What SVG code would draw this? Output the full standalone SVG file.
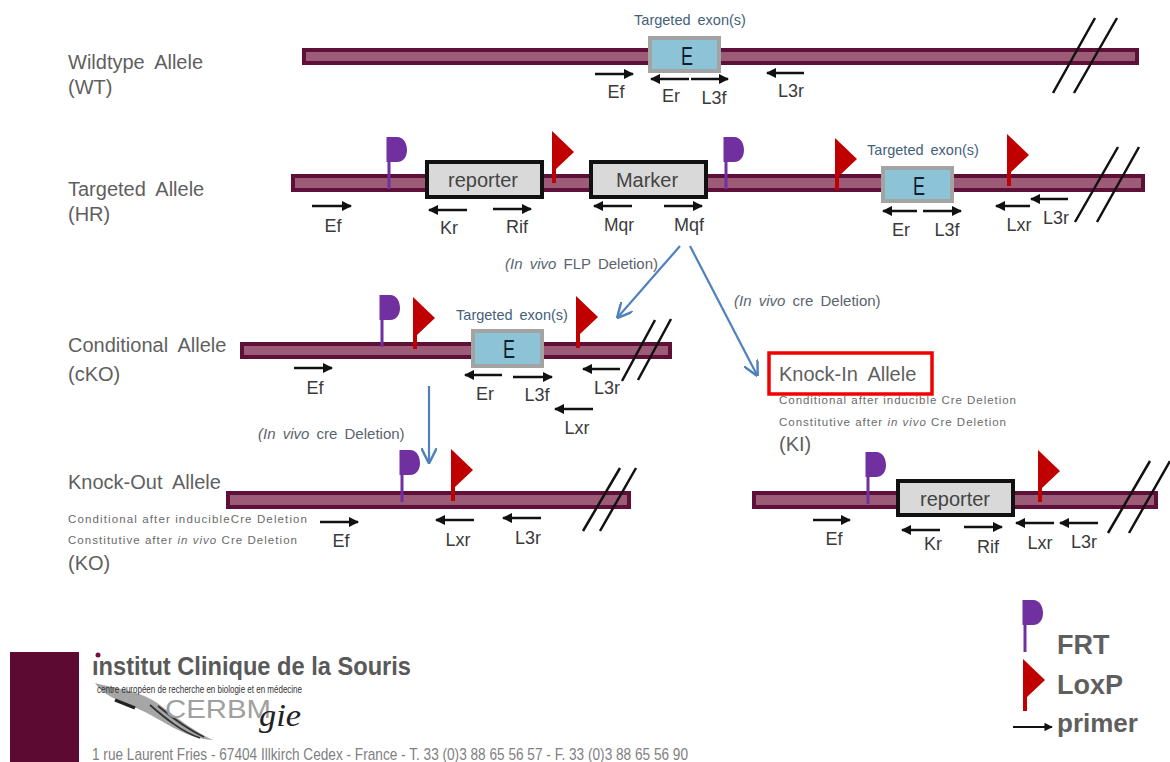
<svg xmlns="http://www.w3.org/2000/svg" width="1170" height="762" viewBox="0 0 1170 762">
<style>
text{font-family:"Liberation Sans",Arial,sans-serif}
.bar{fill:#9c5c78;stroke:#5e1038;stroke-width:4}
.t{font-size:20px;fill:#5f5f5f;word-spacing:5px}
.s{font-size:11.5px;fill:#6a6a6a}
.p{font-size:18px;fill:#3a3a3a;text-anchor:middle}
.tx{font-size:14.500px;fill:#44617b;text-anchor:middle;word-spacing:3px}
.d{font-size:15px;fill:#5a6470;word-spacing:3px}
.box{fill:#d9d9d9;stroke:#111;stroke-width:4}
.boxt{font-size:20px;fill:#444;text-anchor:middle}
.ex{fill:#8cc3d6;stroke:#a3a3a3;stroke-width:4}
.et{font-size:25px;fill:#102030;text-anchor:middle}
.cut{stroke:#111;stroke-width:2.500;fill:none}
.pr{stroke:#111;stroke-width:2.500;fill:none;marker-end:url(#ah)}
.blue{stroke:#4f81bd;stroke-width:2.200;fill:none;marker-end:url(#bh)}
.leg{font-size:27px;font-weight:bold;fill:#5f5f5f}
</style>
<defs>
<marker id="ah" viewBox="0 0 10 10" refX="9" refY="5" markerWidth="4.200" markerHeight="4.200" orient="auto"><path d="M0 0L10 5L0 10z" fill="#111"/></marker>
<marker id="bh" viewBox="0 0 10 10" refX="9" refY="5" markerWidth="7" markerHeight="7" orient="auto"><path d="M0 0L10 5L0 10" fill="none" stroke="#4f81bd" stroke-width="1.600"/></marker>
<g id="frt"><path d="M-2.500-52H8C15-52 18-45 18-39C18-33 15-27 8-27H1.500V0H-1.500V-27H-2.500z" fill="#7030a0"/></g>
<g id="lox"><path d="M-2-52L20-31L2-14V0H-2z" fill="#c00000"/></g>
</defs>

<g id="connectors">
<path class="blue" d="M680 246L618 317"/>
<path class="blue" d="M690 246L757 375"/>
<path class="blue" d="M429 386V462"/>
</g>

<g id="wt">
<text class="t" x="68" y="69">Wildtype Allele</text><text class="t" x="68" y="94">(WT)</text>
<rect class="bar" x="304" y="50" width="833" height="13"/>
<text class="tx" x="690" y="25">Targeted exon(s)</text>
<rect class="ex" x="650" y="38" width="69" height="33"/><text class="et" x="687" y="65" textLength="12" lengthAdjust="spacingAndGlyphs">E</text>
<path class="cut" d="M1053 93L1095 18M1074 93L1117 18"/>
<path class="pr" d="M595 74H633"/><path class="pr" d="M689 79H651"/><path class="pr" d="M691 79H728"/><path class="pr" d="M804 73H767"/>
<text class="p" x="616" y="98">Ef</text><text class="p" x="671" y="102">Er</text><text class="p" x="714" y="104">L3f</text><text class="p" x="791" y="97">L3r</text>
</g>

<g id="hr">
<text class="t" x="68" y="196">Targeted Allele</text><text class="t" x="68" y="221">(HR)</text>
<rect class="bar" x="293" y="176" width="850" height="14"/>
<use href="#frt" x="389" y="189"/><use href="#lox" x="554" y="183"/><use href="#frt" x="726" y="189"/><use href="#lox" x="837" y="190"/><use href="#lox" x="1009" y="186"/>
<rect class="box" x="427" y="162" width="115" height="35"/><text class="boxt" x="483" y="187">reporter</text>
<rect class="box" x="591" y="162" width="115" height="35"/><text class="boxt" x="647" y="187">Marker</text>
<text class="tx" x="923" y="155">Targeted exon(s)</text>
<rect class="ex" x="883" y="168" width="69" height="33"/><text class="et" x="919" y="195" textLength="12" lengthAdjust="spacingAndGlyphs">E</text>
<path class="cut" d="M1075 222L1118 147M1097 222L1139 147"/>
<path class="pr" d="M312 206H351"/><path class="pr" d="M467 210H429"/><path class="pr" d="M493 209H531"/><path class="pr" d="M632 206H594"/><path class="pr" d="M664 206H702"/><path class="pr" d="M923 211H961"/><path class="pr" d="M917 211H883"/><path class="pr" d="M1030 206H996"/><path class="pr" d="M1068 199H1031"/>
<text class="p" x="333" y="232">Ef</text><text class="p" x="449" y="234">Kr</text><text class="p" x="517" y="233">Rif</text><text class="p" x="619" y="231" textLength="30" lengthAdjust="spacingAndGlyphs">Mqr</text><text class="p" x="689" y="231" textLength="30" lengthAdjust="spacingAndGlyphs">Mqf</text><text class="p" x="901" y="236">Er</text><text class="p" x="947" y="236">L3f</text><text class="p" x="1019" y="231">Lxr</text><text class="p" x="1056" y="224">L3r</text>
</g>

<text class="d" id="flp" x="505" y="269"><tspan font-style="italic">(In vivo</tspan> FLP Deletion)</text>
<text class="d" id="cre1" x="734" y="306"><tspan font-style="italic">(In vivo</tspan> cre Deletion)</text>
<text class="d" id="cre2" x="258" y="439"><tspan font-style="italic">(In vivo</tspan> cre Deletion)</text>

<g id="cko">
<text class="t" x="68" y="352">Conditional Allele</text><text class="t" x="68" y="381">(cKO)</text>
<rect class="bar" x="242" y="344" width="428" height="13"/>
<use href="#frt" x="382" y="347"/><use href="#lox" x="415" y="349"/><use href="#lox" x="578" y="348"/>
<text class="tx" x="512" y="320">Targeted exon(s)</text>
<rect class="ex" x="473" y="331" width="69" height="35"/><text class="et" x="509" y="358" textLength="12" lengthAdjust="spacingAndGlyphs">E</text>
<path class="cut" d="M622 381L655 320M638 380L671 319"/>
<path class="pr" d="M502 375H465"/><path class="pr" d="M513 377H552"/><path class="pr" d="M620 369H583"/><path class="pr" d="M593 409H555"/><path class="pr" d="M294 368H332"/>
<text class="p" x="315" y="394">Ef</text><text class="p" x="485" y="400">Er</text><text class="p" x="537" y="401">L3f</text><text class="p" x="607" y="394">L3r</text><text class="p" x="577" y="434">Lxr</text>
</g>

<g id="ki">
<text class="t" x="779" y="381">Knock-In Allele</text>
<rect x="769" y="353" width="163" height="41" fill="none" stroke="#f00000" stroke-width="3.500"/>
<text class="s" x="779" y="404" textLength="237" lengthAdjust="spacing">Conditional after inducible Cre Deletion</text>
<text class="s" x="779" y="426" textLength="227" lengthAdjust="spacing">Constitutive after <tspan font-style="italic">in vivo</tspan> Cre Deletion</text>
<text class="t" x="779" y="451">(KI)</text>
<rect class="bar" x="754" y="493" width="402" height="14"/>
<use href="#frt" x="868" y="504"/><use href="#lox" x="1040" y="502"/>
<rect class="box" x="898" y="481" width="115" height="34"/><text class="boxt" x="955" y="506">reporter</text>
<path class="cut" d="M1108 533L1150 461M1129 533L1170 461"/>
<path class="pr" d="M813 520H850"/><path class="pr" d="M940 530H902"/><path class="pr" d="M964 527H1002"/><path class="pr" d="M1054 523H1016"/><path class="pr" d="M1098 523H1060"/>
<text class="p" x="834" y="545">Ef</text><text class="p" x="933" y="550">Kr</text><text class="p" x="988" y="553">Rif</text><text class="p" x="1040" y="549">Lxr</text><text class="p" x="1084" y="548">L3r</text>
</g>

<g id="ko">
<text class="t" x="68" y="489">Knock-Out Allele</text>
<text class="s" x="68" y="523" textLength="239" lengthAdjust="spacing">Conditional after inducibleCre Deletion</text>
<text class="s" x="68" y="544" textLength="229" lengthAdjust="spacing">Constitutive after <tspan font-style="italic">in vivo</tspan> Cre Deletion</text>
<text class="t" x="68" y="570">(KO)</text>
<rect class="bar" x="228" y="493" width="401" height="14"/>
<use href="#frt" x="402" y="502"/><use href="#lox" x="453" y="501"/>
<path class="cut" d="M583 531L620 468M600 531L636 468"/>
<path class="pr" d="M320 522H358"/><path class="pr" d="M474 520H436"/><path class="pr" d="M541 518H503"/>
<text class="p" x="341" y="547">Ef</text><text class="p" x="458" y="546">Lxr</text><text class="p" x="528" y="544">L3r</text>
</g>

<g id="legend">
<use href="#frt" x="1025" y="652"/><use href="#lox" x="1025" y="711"/>
<text class="leg" x="1057" y="654">FRT</text><text class="leg" x="1057" y="694">LoxP</text>
<path d="M1013 727H1052" stroke="#111" stroke-width="2" fill="none" marker-end="url(#ah)"/>
<text class="leg" x="1057" y="732" style="font-size:26px">primer</text>
</g>

<g id="logo">
<rect x="10" y="652" width="69" height="110" fill="#5c0a32"/>
<path d="M95 683C120 690 140 690 160 705C180 720 195 732 213 740C185 738 165 722 145 712C125 702 105 698 95 683z" fill="#a6a6a6"/>
<path d="M115 700L135 708" stroke="#222" stroke-width="3.500" fill="none"/>
<path d="M150 705C165 718 182 732 200 738M158 706C170 716 185 728 204 737" stroke="#333" stroke-width="1.800" fill="none"/>
<circle cx="98" cy="655" r="2.500" fill="#7a1040"/>
<text x="92" y="675" font-size="25" font-weight="bold" fill="#595959" textLength="319" lengthAdjust="spacingAndGlyphs">ınstitut Clinique de la Souris</text>
<text x="97" y="693" font-size="11" fill="#333" textLength="205" lengthAdjust="spacingAndGlyphs">centre européen de recherche en biologie et en médecine</text>
<text x="165" y="718" font-size="26" fill="#a0a0a0" textLength="106" lengthAdjust="spacingAndGlyphs">CERBM</text>
<text x="259" y="726" font-size="32" font-style="italic" fill="#222" textLength="42" lengthAdjust="spacingAndGlyphs" style="font-family:'Liberation Serif',serif">gie</text>
<text x="92" y="760" font-size="17" fill="#808080" textLength="596" lengthAdjust="spacingAndGlyphs">1 rue Laurent Fries - 67404 Illkirch Cedex - France - T. 33 (0)3 88 65 56 57 - F. 33 (0)3 88 65 56 90</text>
</g>
</svg>
